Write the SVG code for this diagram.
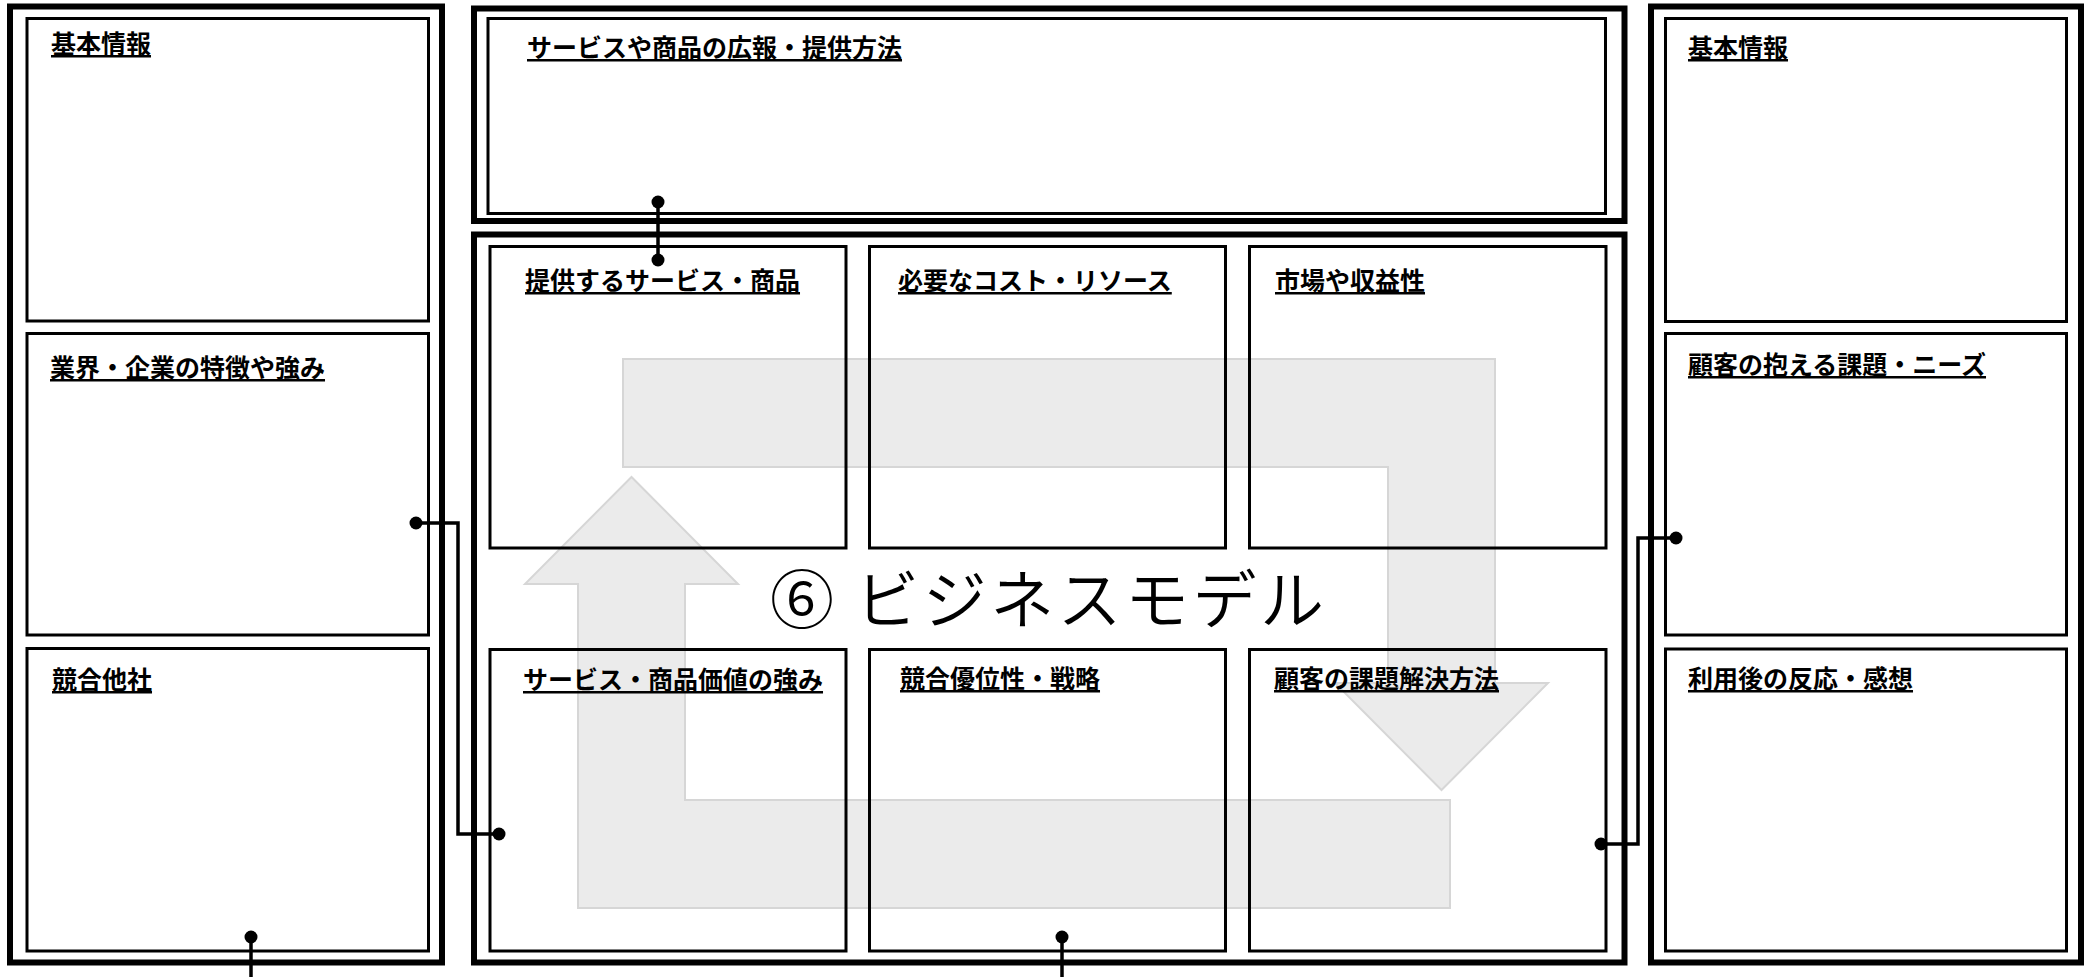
<svg xmlns="http://www.w3.org/2000/svg" width="2091" height="977" viewBox="0 0 2091 977">
<style>
.frame{fill:none;stroke:#000;stroke-width:6}
.box{fill:none;stroke:#000;stroke-width:3}
.lbl{font-family:"Noto Sans CJK JP","Noto Sans CJK SC",sans-serif;font-size:25px;font-weight:700;text-decoration:underline;text-decoration-thickness:2.5px;fill:#000}
.title{font-family:"Noto Sans CJK JP","Noto Sans CJK SC",sans-serif;font-size:64px;font-weight:350;fill:#000}
.arrow{fill:#ebebeb;stroke:#d6d6d6;stroke-width:2}
.conn{fill:none;stroke:#000;stroke-width:3.5}
.dot{fill:#000}
</style>
<rect x="0" y="0" width="2091" height="977" fill="#fff"/>
<g id="cycle-arrows">
<polygon class="arrow" points="623,359 1495,359 1495,683 1548,683 1441.5,790 1335,683 1388,683 1388,467 623,467"/>
<polygon class="arrow" points="1450,908 578,908 578,584 525,584 631.5,477 738,584 685,584 685,800 1450,800"/>
</g>
<g id="frames">
<rect class="frame" x="10" y="6.5" width="432" height="956"/>
<rect class="frame" x="474" y="8.5" width="1150.5" height="212.5"/>
<rect class="frame" x="474" y="234.5" width="1150.5" height="728"/>
<rect class="frame" x="1651" y="6.5" width="430" height="956"/>
</g>
<g id="left-basic"><rect class="box" x="27" y="18.5" width="401.5" height="302.5"/><text class="lbl" x="51" y="53">基本情報</text></g>
<g id="left-industry"><rect class="box" x="27" y="333.5" width="401.5" height="301.5"/><text class="lbl" x="50" y="377">業界・企業の特徴や強み</text></g>
<g id="left-competitors"><rect class="box" x="27" y="648.5" width="401.5" height="302.5"/><text class="lbl" x="52" y="689">競合他社</text></g>
<g id="top-promotion"><rect class="box" x="488" y="18.5" width="1117.5" height="195"/><text class="lbl" x="527" y="57">サービスや商品の広報・提供方法</text></g>
<g id="c-offer"><rect class="box" x="490" y="246.5" width="356" height="301.5"/><text class="lbl" x="525" y="290">提供するサービス・商品</text></g>
<g id="c-cost"><rect class="box" x="869.5" y="246.5" width="356" height="301.5"/><text class="lbl" x="898" y="290">必要なコスト・リソース</text></g>
<g id="c-market"><rect class="box" x="1249.5" y="246.5" width="356.5" height="301.5"/><text class="lbl" x="1275" y="290">市場や収益性</text></g>
<g id="c-value"><rect class="box" x="490" y="649.5" width="356" height="301.5"/><text class="lbl" x="523" y="689">サービス・商品価値の強み</text></g>
<g id="c-advantage"><rect class="box" x="869.5" y="649.5" width="356" height="301.5"/><text class="lbl" x="900" y="688">競合優位性・戦略</text></g>
<g id="c-solution"><rect class="box" x="1249.5" y="649.5" width="356.5" height="301.5"/><text class="lbl" x="1274" y="688">顧客の課題解決方法</text></g>
<g id="right-basic"><rect class="box" x="1665.5" y="18.5" width="401" height="303"/><text class="lbl" x="1688" y="57">基本情報</text></g>
<g id="right-needs"><rect class="box" x="1665.5" y="333.5" width="401" height="301.5"/><text class="lbl" x="1688" y="374">顧客の抱える課題・ニーズ</text></g>
<g id="right-feedback"><rect class="box" x="1665.5" y="649" width="401" height="302"/><text class="lbl" x="1688" y="688">利用後の反応・感想</text></g>
<g id="title"><text class="title" x="770" y="623" textLength="554" lengthAdjust="spacing">⑥ ビジネスモデル</text></g>
<g id="connectors">
<path class="conn" d="M658,202 V260"/>
<circle class="dot" cx="658" cy="202" r="6.5"/><circle class="dot" cx="658" cy="260" r="6.5"/>
<path class="conn" d="M416,523 H458 V834 H499"/>
<circle class="dot" cx="416" cy="523" r="6.5"/><circle class="dot" cx="499" cy="834" r="6.5"/>
<path class="conn" d="M1676,538 H1638 V844 H1601"/>
<circle class="dot" cx="1676" cy="538" r="6.5"/><circle class="dot" cx="1601" cy="844" r="6.5"/>
<path class="conn" d="M251,937 V977"/>
<circle class="dot" cx="251" cy="937" r="6.5"/>
<path class="conn" d="M1062,937 V977"/>
<circle class="dot" cx="1062" cy="937" r="6.5"/>
</g>
</svg>
